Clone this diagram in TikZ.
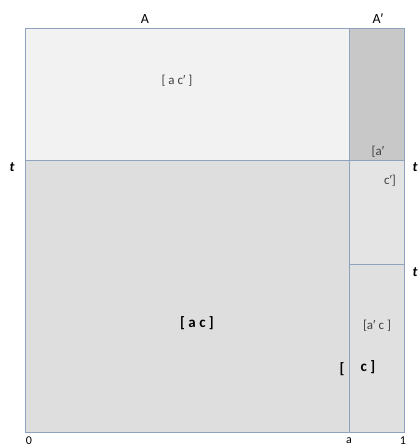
\documentclass[tikz,border=0pt]{standalone}
\usepackage{fontspec}
\setmainfont{Carlito}
\newfontfamily\primefont{Liberation Sans}
\newcommand{\pr}{{\primefont ′}}
\usepackage{tikz}

\tikzset{
  cell/.style={draw=edge, line width=1pt},
  lbl/.style={font=\fontsize{13}{15}\selectfont, text=black!75},
  bigl/.style={font=\bfseries\fontsize{15}{17}\selectfont},
  tlbl/.style={font=\bfseries\itshape\rmfamily\fontsize{14}{16}\selectfont},
  axl/.style={font=\fontsize{12}{14}\selectfont}
}
\definecolor{edge}{HTML}{8FA3BF}
\definecolor{topA}{HTML}{F2F2F2}
\definecolor{topAp}{HTML}{C8C8C8}
\definecolor{botA}{HTML}{DEDEDE}
\definecolor{midAp}{HTML}{E4E4E4}
\definecolor{lowAp}{HTML}{E0E0E0}

\begin{document}
\begin{tikzpicture}[x=1pt,y=-1pt]
        \useasboundingbox (0,0) rectangle (417,446);
        \coordinate (o) at (25,432);
        \coordinate (ab) at (349,432);
        \coordinate (one) at (404,432);
        \coordinate (tl) at (25,29);
        \coordinate (at) at (349,29);
        \coordinate (tr) at (404,29);
        \coordinate (tm) at (25,161);
        \coordinate (am) at (349,161);
        \coordinate (rm) at (404,161);
        \coordinate (al) at (349,264);
        \coordinate (rl) at (404,264);
        % cells
        \fill[topA] (tl) rectangle (am);
        \fill[topAp] (at) rectangle (rm);
        \fill[botA] (tm) rectangle (ab);
        \fill[midAp] (am) rectangle (rl);
        \fill[lowAp] (al) rectangle (one);
        \draw[cell] (tl) rectangle (one);
        \draw[cell] (tm) -- (rm);
        \draw[cell] (at) -- (ab);
        \draw[cell] (al) -- (rl);
        % labels
        \node[font=\fontsize{14}{16}\selectfont] (la) at (145,19) {A};
        \node[font=\fontsize{14}{16}\selectfont] (lap) at (378,19) {A\pr};
        \node[tlbl] (t1) at (12,167) {t};
        \node[tlbl] (t2) at (415,167) {t};
        \node[tlbl] (t3) at (415,272) {t};
        \node[lbl] (acp) at (177,81) {[ a c\pr\ ]};
        \node[lbl] (ap) at (378,152) {[a\pr};
        \node[lbl] (cp) at (390,181) {c\pr]};
        \node[bigl] (ac) at (197,323) {[ a c ]};
        \node[lbl] (apc) at (377,326) {[a\pr\ c ]};
        \node[bigl] (lb) at (342,369) {[};
        \node[bigl] (c) at (368,367) {c ]};
        \node[axl] (zero) at (29,441) {0};
        \node[axl] (la2) at (349,441) {a};
        \node[axl] (l1) at (403,441) {1};
    \end{tikzpicture}
\end{document}
